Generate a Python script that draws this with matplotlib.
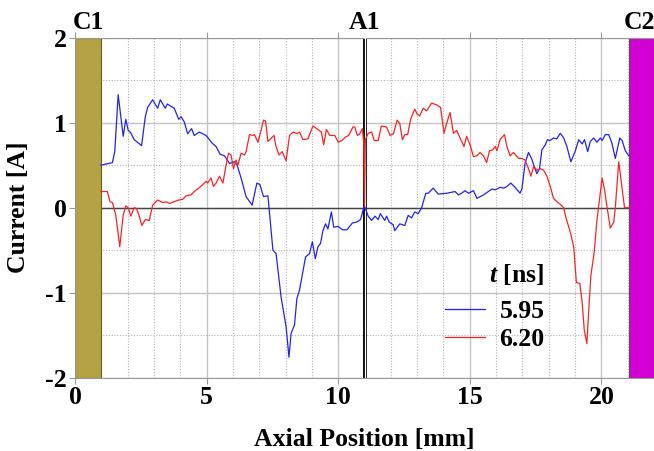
import matplotlib
matplotlib.use('Agg')
import matplotlib.pyplot as plt
from matplotlib.ticker import MultipleLocator

plt.rcParams['font.family'] = ['Liberation Serif', 'DejaVu Serif']
plt.rcParams['font.weight'] = 'bold'
plt.rcParams['axes.unicode_minus'] = False
plt.rcParams['mathtext.fontset'] = 'custom'
plt.rcParams['mathtext.it'] = 'Liberation Serif:italic:bold'
plt.rcParams['mathtext.rm'] = 'Liberation Serif:bold'

# curve at t = 5.95 ns
blue_x = [0.98, 1.42, 1.51, 1.64, 1.74, 1.83, 1.93, 2.02, 2.12, 2.25, 2.53, 2.67, 2.76,
          2.95, 3.14, 3.24, 3.43, 3.51, 3.77, 3.94, 4.03, 4.15, 4.28, 4.43, 4.53, 4.72,
          4.98, 5.21, 5.36, 5.51, 5.68, 5.87, 6.06, 6.16, 6.31, 6.50, 6.73, 6.91, 7.03,
          7.16, 7.33, 7.52, 7.64, 7.83, 8.02, 8.13, 8.21, 8.34, 8.43, 8.53, 8.76, 8.91,
          9.02, 9.13, 9.23, 9.33, 9.42, 9.52, 9.61, 9.74, 9.83, 10.0, 10.16, 10.33, 10.54,
          10.70, 10.85, 10.97, 11.0, 11.14, 11.27, 11.40, 11.52, 11.60, 11.77, 11.84, 11.94,
          12.09, 12.15, 12.34, 12.53, 12.66, 12.79, 12.91, 13.04, 13.17, 13.33, 13.42, 13.61,
          13.80, 14.12, 14.44, 14.57, 14.69, 14.82, 14.95, 15.14, 15.27, 15.52, 15.84, 15.97,
          16.15, 16.30, 16.41, 16.56, 16.72, 16.91, 16.98, 17.10, 17.23, 17.36, 17.45, 17.55,
          17.65, 17.74, 17.87, 17.95, 18.05, 18.18, 18.30, 18.44, 18.57, 18.69, 18.84, 19.00,
          19.14, 19.27, 19.36, 19.48, 19.58, 19.71, 19.83, 19.96, 20.03, 20.15, 20.28, 20.40,
          20.53, 20.70, 20.79, 20.91, 21.04]
blue_y = [0.50, 0.53, 0.66, 1.33, 1.07, 0.84, 1.04, 0.91, 0.88, 0.80, 0.73, 1.07, 1.18,
          1.27, 1.17, 1.27, 1.17, 1.22, 1.17, 1.04, 1.07, 1.01, 0.87, 0.93, 0.85, 0.89,
          0.85, 0.76, 0.72, 0.63, 0.61, 0.52, 0.54, 0.50, 0.35, 0.13, 0.03, 0.29, 0.27,
          0.13, 0.14, -0.50, -0.54, -1.05, -1.40, -1.76, -1.48, -1.38, -1.07, -0.97, -0.58, -0.54,
          -0.40, -0.60, -0.46, -0.42, -0.27, -0.19, -0.25, -0.05, -0.23, -0.22, -0.26, -0.26, -0.18,
          -0.17, -0.14, 0.0, 0.02, -0.10, -0.15, -0.10, -0.14, -0.07, -0.15, -0.10, -0.17,
          -0.20, -0.27, -0.19, -0.21, -0.09, -0.12, -0.05, -0.07, 0.0, 0.17, 0.17, 0.23,
          0.16, 0.17, 0.19, 0.15, 0.17, 0.20, 0.17, 0.20, 0.11, 0.15, 0.22, 0.21,
          0.24, 0.23, 0.25, 0.29, 0.24, 0.17, 0.22, 0.52, 0.65, 0.57, 0.48, 0.40,
          0.46, 0.68, 0.74, 0.80, 0.79, 0.82, 0.81, 0.875, 0.82, 0.72, 0.54, 0.66,
          0.80, 0.75, 0.80, 0.66, 0.78, 0.82, 0.77, 0.82, 0.79, 0.86, 0.86, 0.76,
          0.58, 0.82, 0.79, 0.67, 0.61]

# curve at t = 6.20 ns
red_x = [0.98, 1.23, 1.33, 1.42, 1.55, 1.70, 1.83, 1.93, 2.02, 2.12, 2.25, 2.34, 2.44,
         2.54, 2.67, 2.82, 2.95, 3.14, 3.33, 3.46, 3.59, 3.77, 3.94, 4.10, 4.22, 4.41,
         4.53, 4.70, 4.85, 4.98, 5.04, 5.17, 5.26, 5.36, 5.49, 5.62, 5.74, 5.83, 5.93,
         6.02, 6.12, 6.19, 6.31, 6.44, 6.50, 6.63, 6.76, 6.82, 6.95, 7.08, 7.16, 7.24,
         7.33, 7.46, 7.56, 7.63, 7.75, 7.87, 8.02, 8.15, 8.29, 8.44, 8.53, 8.66, 8.85,
         9.04, 9.23, 9.36, 9.45, 9.55, 9.68, 9.87, 10.0, 10.14, 10.27, 10.40, 10.56, 10.63,
         10.73, 10.82, 10.92, 10.97, 11.00, 11.03, 11.14, 11.27, 11.37, 11.52, 11.64, 11.84,
         11.97, 12.10, 12.24, 12.34, 12.44, 12.53, 12.64, 12.75, 12.91, 13.00, 13.10, 13.23,
         13.36, 13.55, 13.74, 13.89, 14.02, 14.12, 14.25, 14.38, 14.50, 14.63, 14.78, 14.88,
         15.01, 15.14, 15.27, 15.39, 15.52, 15.64, 15.75, 15.87, 15.97, 16.03, 16.15, 16.32,
         16.41, 16.53, 16.66, 16.77, 16.85, 16.98, 17.10, 17.23, 17.32, 17.43, 17.55, 17.68,
         17.81, 17.93, 18.06, 18.18, 18.31, 18.44, 18.57, 18.63, 18.82, 18.95, 19.05, 19.18,
         19.27, 19.35, 19.45, 19.52, 19.60, 19.73, 19.83, 19.95, 20.03, 20.12, 20.22, 20.34,
         20.47, 20.53, 20.66, 20.79, 20.88, 21.04]
red_y = [0.19, 0.19, 0.07, 0.06, -0.09, -0.46, -0.09, 0.02, 0.0, -0.10, 0.0, -0.01, -0.10,
         -0.21, -0.14, -0.15, 0.03, 0.09, 0.06, 0.07, 0.05, 0.07, 0.09, 0.10, 0.14, 0.15,
         0.19, 0.23, 0.27, 0.31, 0.29, 0.35, 0.25, 0.29, 0.37, 0.29, 0.50, 0.64, 0.62,
         0.46, 0.56, 0.50, 0.64, 0.62, 0.66, 0.86, 0.85, 0.86, 0.77, 0.92, 1.03, 1.02,
         0.78, 0.82, 0.85, 0.73, 0.62, 0.66, 0.55, 0.85, 0.89, 0.87, 0.89, 0.80, 0.81,
         0.96, 0.92, 0.89, 0.74, 0.92, 0.85, 0.85, 0.77, 0.79, 0.83, 0.85, 0.95, 0.95,
         0.85, 0.87, 0.93, 0.77, 0.02, 0.80, 0.875, 0.89, 0.79, 0.79, 0.96, 0.95,
         0.85, 0.87, 1.03, 0.99, 0.80, 0.86, 0.86, 1.04, 1.16, 1.10, 1.08, 1.17,
         1.14, 1.23, 1.21, 1.18, 0.875, 0.99, 1.12, 0.875, 0.91, 0.82, 0.72, 0.84,
         0.74, 0.60, 0.61, 0.65, 0.61, 0.53, 0.67, 0.68, 0.72, 0.67, 0.80, 0.86,
         0.72, 0.61, 0.65, 0.61, 0.58, 0.58, 0.56, 0.46, 0.37, 0.49, 0.44, 0.46,
         0.44, 0.37, 0.25, 0.11, 0.07, 0.04, 0.0, -0.09, -0.29, -0.46, -0.88, -0.89,
         -1.11, -1.44, -1.60, -1.21, -0.80, -0.52, -0.15, 0.15, 0.35, 0.21, 0.0, -0.24,
         -0.17, 0.0, 0.54, 0.22, 0.0, 0.0]

series_labels = ['5.95', '6.20']
electrode_c1 = (0.0, 1.0)
electrode_c2 = (21.05, 22.0)
a1_pos = 11.0

FS = 18.5

fig = plt.figure(figsize=(6.54, 4.51), dpi=100)
ax = fig.add_axes([0.1147, 0.1626, 0.8853, 0.7538])

ax.set_xlim(0, 22)
ax.set_ylim(-2, 2)
ax.xaxis.set_major_locator(MultipleLocator(5))
ax.xaxis.set_minor_locator(MultipleLocator(1))
ax.yaxis.set_major_locator(MultipleLocator(1))
ax.yaxis.set_minor_locator(MultipleLocator(0.5))
ax.set_axisbelow(True)
ax.grid(which='major', color='#c4c4c4', lw=1.0, ls='-')
ax.grid(which='minor', color='#b4b4b4', lw=0.8, ls=(0, (1, 1.5)))

ax.tick_params(which='major', direction='out', length=4, color='#999999',
               top=True, labelsize=FS, pad=2)
ax.tick_params(which='minor', length=0)
for side in ['left', 'top', 'bottom']:
    ax.spines[side].set_color('#999999')
ax.spines['right'].set_visible(False)

# electrodes and zero line
ax.axvspan(*electrode_c1, color='#b4a244', ec='#6b5f22', lw=0.8, zorder=2)
ax.axvspan(*electrode_c2, color='#d200d2', ec='#555555', lw=0.8, zorder=2)
ax.plot([electrode_c1[1], electrode_c2[0]], [0, 0], color='#444444', lw=1.0, zorder=1.5)

ax.axvline(a1_pos, color='black', lw=2.8, zorder=2.5)
ax.axvline(a1_pos, color='white', lw=0.9, zorder=2.6)

ax.plot(blue_x, blue_y, color='#2222ff', lw=0.9, label=series_labels[0], zorder=3)
ax.plot(red_x, red_y, color='#ff2222', lw=0.9, label=series_labels[1], zorder=3)

for txt, xpos in [('C1', 0.5), ('A1', a1_pos), ('C2', 21.45)]:
    ax.text(xpos, 2.04, txt, ha='center', va='bottom', fontsize=FS, fontweight='bold')

ax.set_xlabel('Axial Position [mm]', fontsize=FS, fontweight='bold')
ax.set_ylabel('Current [A]', fontsize=FS, fontweight='bold')
ax.xaxis.set_label_coords(0.5, -0.215)
ax.yaxis.set_label_coords(-0.098, 0.5)
ax.xaxis.label.set_va('bottom')
ax.yaxis.label.set_va('center')

leg = ax.legend(loc='upper left', bbox_to_anchor=(0.622, 0.37), frameon=False,
                title=r'$t$ [ns]', fontsize=FS, title_fontsize=FS,
                handlelength=1.55, handletextpad=0.55, labelspacing=0.2,
                borderaxespad=0, alignment='right')
leg.get_title().set_fontweight('bold')
leg._legend_box.sep = 9

fig.savefig('out.png', dpi=100)
